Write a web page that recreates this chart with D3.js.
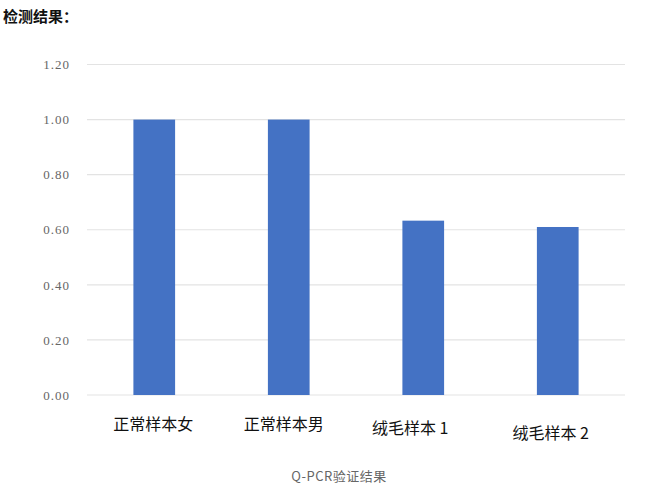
<!DOCTYPE html>
<html>
<head>
<meta charset="utf-8">
<script src="https://cdn.jsdelivr.net/npm/d3@7"></script>
<style>
  html, body { margin: 0; padding: 0; background: #fff; }
  svg { display: block; }
  .ytick text { font-family: "Liberation Serif", "DejaVu Serif", serif; }
</style>
</head>
<body>
<svg id="chart" width="661" height="490"></svg>
<script>
// Q-PCR relative expression per sample
const categories = ["正常样本女", "正常样本男", "绒毛样本 1", "绒毛样本 2"];
const values = [1.00, 1.00, 0.633, 0.61];
const yTicks = [0, 0.2, 0.4, 0.6, 0.8, 1.0, 1.2];
const labelShiftY = [0, 0, 4, 9];
const labelShiftX = [-1, -5, -13, -7];

const svg = d3.select("#chart");
const plotLeft = 87, plotRight = 625, plotTop = 64.5, plotBottom = 395;

const x = d3.scaleBand().domain(categories).range([plotLeft, plotRight]).paddingInner(0.69).paddingOuter(0.345);
const y = d3.scaleLinear().domain([0, 1.2]).range([plotBottom, plotTop]);

// header
svg.append("text")
  .attr("x", 3).attr("y", 22)
  .attr("font-family", "Noto Sans CJK SC, sans-serif")
  .attr("font-size", 15).attr("font-weight", "bold").attr("fill", "#111")
  .text("检测结果：");

// gridlines
svg.append("g").selectAll("line").data(yTicks).join("line")
  .attr("x1", plotLeft).attr("x2", plotRight)
  .attr("y1", d => y(d)).attr("y2", d => y(d))
  .attr("stroke", "#e3e3e3").attr("stroke-width", 1.2);

// y axis labels
const yAxis = d3.axisLeft(y).tickValues(yTicks).tickFormat(d3.format(".2f")).tickSize(0).tickPadding(0);
const gy = svg.append("g").attr("class", "ytick").attr("transform", "translate(70,0)").call(yAxis);
gy.select(".domain").remove();
gy.attr("font-family", null);
gy.selectAll("text")
  .attr("font-size", 13).attr("letter-spacing", 1).attr("fill", "#666");

// bars
svg.append("g").selectAll("rect").data(values).join("rect")
  .attr("x", (d, i) => x(categories[i]))
  .attr("width", x.bandwidth())
  .attr("y", d => y(d))
  .attr("height", d => y(0) - y(d))
  .attr("fill", "#4472c4");

// category labels
const xAxis = d3.axisBottom(x).tickSize(0).tickPadding(0);
const gx = svg.append("g").attr("transform", `translate(0,${plotBottom})`).call(xAxis);
gx.select(".domain").remove();
gx.selectAll("text")
  .attr("dy", null)
  .attr("x", (d, i) => labelShiftX[i])
  .attr("y", (d, i) => 35 + labelShiftY[i])
  .attr("font-family", "Noto Sans CJK SC, sans-serif")
  .attr("font-size", 16).attr("fill", "#111");

// axis title
svg.append("text")
  .attr("x", 339).attr("y", 481)
  .attr("text-anchor", "middle")
  .attr("font-family", "Noto Sans CJK SC, sans-serif")
  .attr("font-size", 13).attr("letter-spacing", 0.5).attr("fill", "#666")
  .text("Q-PCR验证结果");
</script>
</body>
</html>
